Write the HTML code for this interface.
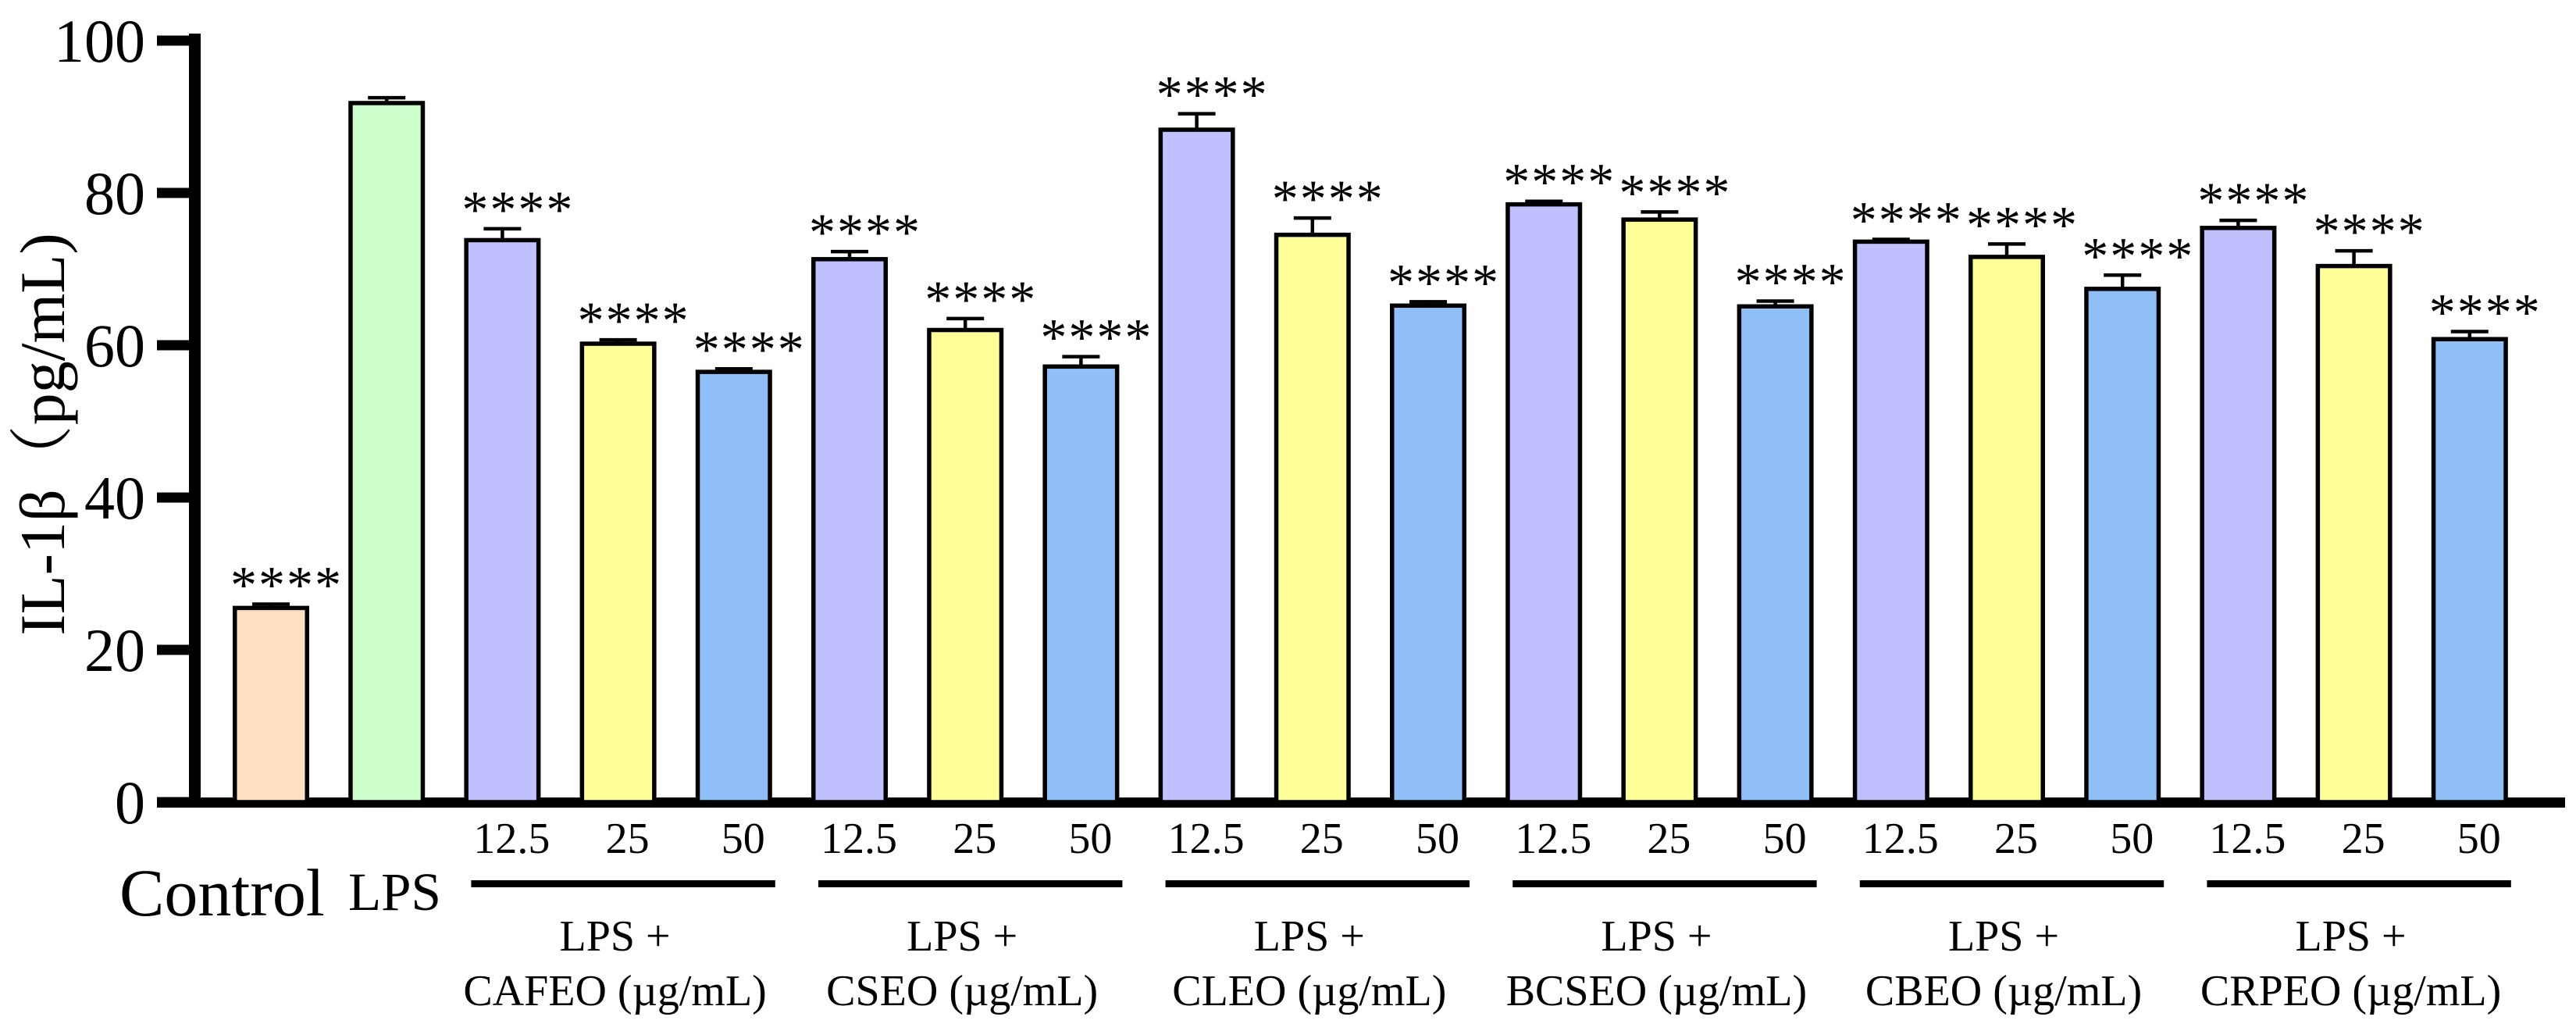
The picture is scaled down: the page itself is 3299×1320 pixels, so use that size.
<!DOCTYPE html>
<html><head><meta charset="utf-8"><style>
html,body{margin:0;padding:0;background:#fff;}
svg{display:block;}
text{font-family:"Liberation Serif","Noto Serif CJK SC",serif;fill:#000;}
</style></head><body>
<svg id="chart" width="3299" height="1320" viewBox="0 0 3299 1320" xmlns="http://www.w3.org/2000/svg">
<g id="axes"></g>
<g id="bars"></g>
<g id="labels"></g>
<text transform="translate(82,556) rotate(-90)" text-anchor="middle" font-size="82">IL-1β（pg/mL)</text>
<text x="153" y="1172" font-size="86">Control</text>
<text x="446" y="1165" font-size="69">LPS</text>
</svg>
<script>
const values = [25.5, 91.8, 73.8, 60.2, 56.5, 71.3, 62.0, 57.2, 88.3, 74.5, 65.2, 78.5, 76.5, 65.1, 73.6, 71.6, 67.4, 75.4, 70.4, 60.8];
const errors = [0.5, 0.7, 1.5, 0.5, 0.4, 1.0, 1.5, 1.3, 2.1, 2.2, 0.5, 0.4, 1.0, 0.7, 0.3, 1.7, 1.8, 1.0, 2.0, 1.0];
const stars = ["****","","****","****","****","****","****","****","****","****","****","****","****","****","****","****","****","****","****","****"];
const doses = ["12.5","25","50"];
const groups = ["CAFEO","CSEO","CLEO","BCSEO","CBEO","CRPEO"];
const yTicks = [0,20,40,60,80,100];
const colors = ["#FFDFC0","#CCFFCC","#C0C0FF","#FFFF99","#90BFF8"];

const NS = "http://www.w3.org/2000/svg";
function y(v){ return 1027 - v*9.75; }
function xLeft(i){ return 298 + i*148.2; }
const BW = 98;
function mk(tag, attrs, parent){ const e=document.createElementNS(NS,tag); for(const k in attrs) e.setAttribute(k,attrs[k]); parent.appendChild(e); return e; }

const axes = document.getElementById('axes');
const bars = document.getElementById('bars');
const labels = document.getElementById('labels');

values.forEach((v,i)=>{
  const col = i===0?colors[0]:i===1?colors[1]:colors[2+((i-2)%3)];
  const x = xLeft(i)+2.75;
  const r = mk('rect',{x:x,y:y(v),width:BW-5.5,height:y(0)-y(v),fill:col,stroke:'#000','stroke-width':5.5},bars);
  
  
  const cx = xLeft(i)+BW/2;
  const ey = y(v+errors[i]);
  const el = mk('line',{x1:cx,x2:cx,y1:y(v),y2:ey,stroke:'#000','stroke-width':4.5},bars);
  
  
  const ec = mk('line',{x1:cx-24,x2:cx+24,y1:ey,y2:ey,stroke:'#000','stroke-width':4.5},bars);
  
  
  if(stars[i]){
    const t = mk('text',{x:cx+20,y:ey-2,'text-anchor':'middle','font-size':68,'letter-spacing':2},bars);
    t.textContent = stars[i];
    
    
  }
});

const ya = mk('line',{x1:249.5,x2:249.5,y1:43,y2:1034,stroke:'#000','stroke-width':15},axes);


const xa = mk('line',{x1:201,x2:3285,y1:1027.5,y2:1027.5,stroke:'#000','stroke-width':13},axes);


yTicks.forEach(t=>{
  const tk = mk('line',{x1:201,x2:250,y1:y(t),y2:y(t),stroke:'#000','stroke-width':13},axes);
  
  
  const tl = mk('text',{x:186,y:y(t)+27,'text-anchor':'end','font-size':78},axes);
  tl.textContent = t;
  
  
});

groups.forEach((g,gi)=>{
  const i0 = 2+gi*3;
  for(let k=0;k<3;k++){
    const t = mk('text',{x:xLeft(i0+k)+BW/2+12,y:1092,'text-anchor':'middle','font-size':56},labels);
    t.textContent = doses[k];
    
    
  }
  const l = mk('line',{x1:xLeft(i0)+9,x2:xLeft(i0+2)+BW+4,y1:1131.5,y2:1131.5,stroke:'#000','stroke-width':9},labels);
  
  
  const gc = xLeft(i0+1)+BW/2-4;
  const t1 = mk('text',{x:gc,y:1217,'text-anchor':'middle','font-size':56},labels);
  t1.textContent = 'LPS +';
  
  
  const t2 = mk('text',{x:gc,y:1287,'text-anchor':'middle','font-size':56},labels);
  t2.textContent = g+' (µg/mL)';
  
  
});
</script>
</body></html>
